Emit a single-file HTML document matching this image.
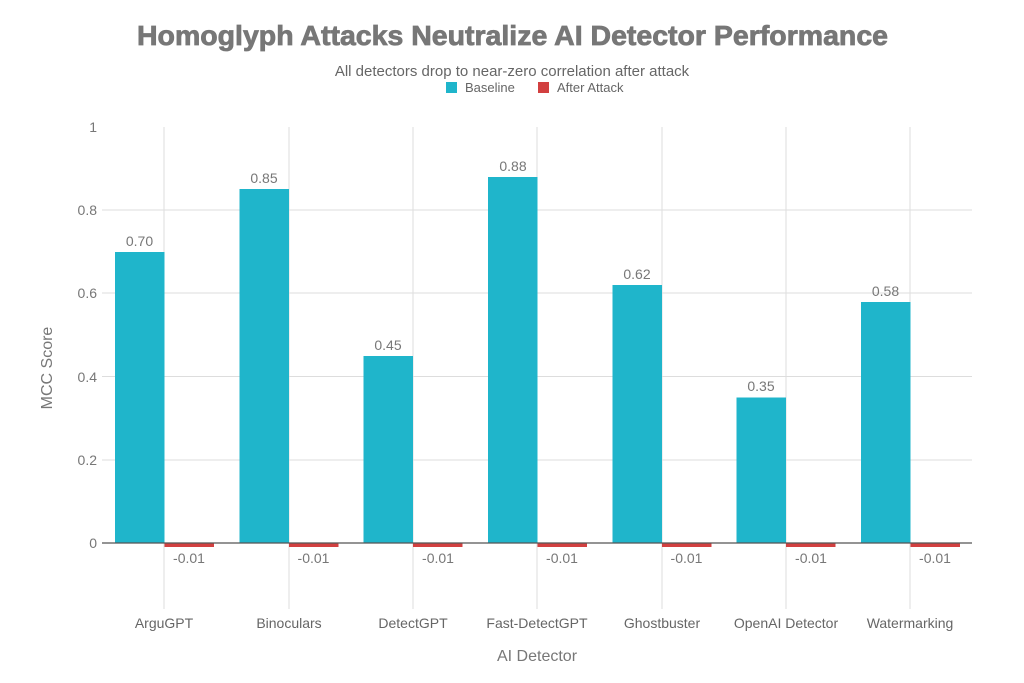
<!DOCTYPE html>
<html><head><meta charset="utf-8"><style>body{margin:0;background:#fff}svg{display:block}</style></head><body>
<svg width="1024" height="683" xmlns="http://www.w3.org/2000/svg" font-family="Liberation Sans, sans-serif">
<rect width="1024" height="683" fill="#fff"/>
<text x="137" y="45" textLength="751" lengthAdjust="spacingAndGlyphs" font-size="28" font-weight="bold" fill="#777" stroke="#777" stroke-width="0.8">Homoglyph Attacks Neutralize AI Detector Performance</text>
<text x="512" y="76" text-anchor="middle" font-size="15" fill="#666">All detectors drop to near-zero correlation after attack</text>
<rect x="446" y="82" width="11" height="11" fill="#1fb5cb"/>
<text x="465" y="92" font-size="13" fill="#666">Baseline</text>
<rect x="538" y="82" width="11" height="11" fill="#d24040"/>
<text x="557" y="92" font-size="13" fill="#666">After Attack</text>
<g stroke="#ddd" stroke-width="1">
<line x1="102" x2="972" y1="210" y2="210"/><line x1="102" x2="972" y1="293" y2="293"/>
<line x1="102" x2="972" y1="376.5" y2="376.5"/><line x1="102" x2="972" y1="460" y2="460"/>
<line x1="164" x2="164" y1="127" y2="609"/><line x1="289" x2="289" y1="127" y2="609"/>
<line x1="413" x2="413" y1="127" y2="609"/><line x1="537" x2="537" y1="127" y2="609"/>
<line x1="662" x2="662" y1="127" y2="609"/><line x1="786" x2="786" y1="127" y2="609"/>
<line x1="910" x2="910" y1="127" y2="609"/>
</g>
<g font-size="14" fill="#777" text-anchor="end">
<text x="97" y="132">1</text><text x="97" y="215">0.8</text><text x="97" y="298">0.6</text>
<text x="97" y="382">0.4</text><text x="97" y="465">0.2</text><text x="97" y="548">0</text>
</g>
<g fill="#1fb5cb">
<rect x="115" y="252" width="49.5" height="291"/>
<rect x="239.5" y="189" width="49.5" height="354"/>
<rect x="363.5" y="356" width="49.5" height="187"/>
<rect x="488" y="177" width="49.5" height="366"/>
<rect x="612.5" y="285" width="49.5" height="258"/>
<rect x="736.5" y="397.5" width="49.5" height="145.5"/>
<rect x="861" y="302" width="49.5" height="241"/>
</g>
<g fill="#d24040">
<rect x="164.5" y="543" width="49.5" height="4"/><rect x="289" y="543" width="49.5" height="4"/>
<rect x="413" y="543" width="49.5" height="4"/><rect x="537.5" y="543" width="49.5" height="4"/>
<rect x="662" y="543" width="49.5" height="4"/><rect x="786" y="543" width="49.5" height="4"/>
<rect x="910.5" y="543" width="49.5" height="4"/>
</g>
<line x1="102" x2="972" y1="543" y2="543" stroke="#555" stroke-width="1.2"/>
<g font-size="14" fill="#777" text-anchor="middle">
<text x="139.5" y="246">0.70</text><text x="264" y="183">0.85</text><text x="388" y="350">0.45</text>
<text x="513" y="171">0.88</text><text x="637" y="279">0.62</text><text x="761" y="391">0.35</text><text x="885.5" y="296">0.58</text>
<text x="189" y="563">-0.01</text><text x="313.5" y="563">-0.01</text><text x="438" y="563">-0.01</text>
<text x="562" y="563">-0.01</text><text x="686.5" y="563">-0.01</text><text x="811" y="563">-0.01</text><text x="935" y="563">-0.01</text>
</g>
<g font-size="14" fill="#666" text-anchor="middle">
<text x="164" y="628">ArguGPT</text><text x="289" y="628">Binoculars</text><text x="413" y="628">DetectGPT</text>
<text x="537" y="628">Fast-DetectGPT</text><text x="662" y="628">Ghostbuster</text><text x="786" y="628">OpenAI Detector</text>
<text x="910" y="628">Watermarking</text>
</g>
<text x="537" y="661" text-anchor="middle" font-size="16" fill="#777">AI Detector</text>
<text transform="translate(52,368) rotate(-90)" text-anchor="middle" font-size="16" fill="#777">MCC Score</text>
</svg>
</body></html>
